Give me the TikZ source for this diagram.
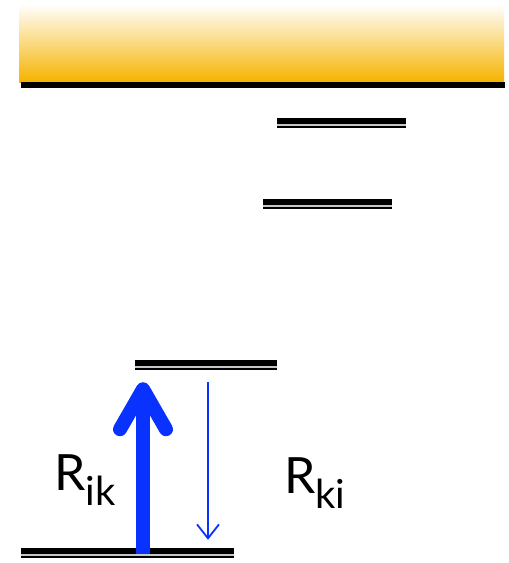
\documentclass[tikz,border=0pt]{standalone}
\usepackage{fontspec}
\setmainfont{Lato}
\usetikzlibrary{arrows.meta,positioning}
\definecolor{bandorange}{RGB}{245,179,0}
\definecolor{rateblue}{RGB}{10,50,255}
\tikzset{
  level/.style={inner sep=0pt,minimum height=10pt,
    path picture={
      \fill[gray!45] (path picture bounding box.south west) rectangle (path picture bounding box.north east);
      \fill[black] (path picture bounding box.north west) rectangle ([yshift=-6pt]path picture bounding box.north east);
      \fill[black] ([yshift=2pt]path picture bounding box.south west) rectangle (path picture bounding box.south east);}},
  band/.style={inner sep=0pt,minimum width=485pt,minimum height=78pt,top color=white,bottom color=bandorange},
  pump/.style={rateblue,line width=14pt,-{Straight Barb[round,length=40pt,width=46pt]}},
  decay/.style={rateblue,line width=1.8pt,-{Straight Barb[length=14pt,width=22pt]}},
  rate/.style={inner sep=0pt,font=\fontsize{50}{52}\selectfont}
}
\newcommand{\sublab}[1]{\raisebox{-15pt}{\fontsize{40}{42}\selectfont #1}}
\begin{document}
\begin{tikzpicture}[x=1pt,y=-1pt]
\useasboundingbox (0,0) rectangle (509,563);
\node[band] (band) at (261.5,43) {};
\fill[black] ([xshift=2pt]band.south west) rectangle ([xshift=1pt,yshift=-6pt]band.south east);
\foreach \name/\x/\y/\w in {e1/341.5/122.5/129,e2/327.5/203.5/129,e3/206/365/142,ground/127.5/553/213}{
\node[level,minimum width=\w] (\name) at (\x,\y) {};}
\draw[pump] ([xshift=15.5pt,yshift=-1pt]ground.center) -- ([xshift=-63pt,yshift=-12pt]e3.south);
\draw[decay] ([xshift=2pt,yshift=-12pt]e3.south) -- ([xshift=80.5pt,yshift=8pt]ground.north);
\node[rate,anchor=base west] (rik) at (54,490) {R\sublab{ik}};
\node[rate,anchor=base west] (rki) at (284,493) {R\sublab{ki}};
\end{tikzpicture}
\end{document}
